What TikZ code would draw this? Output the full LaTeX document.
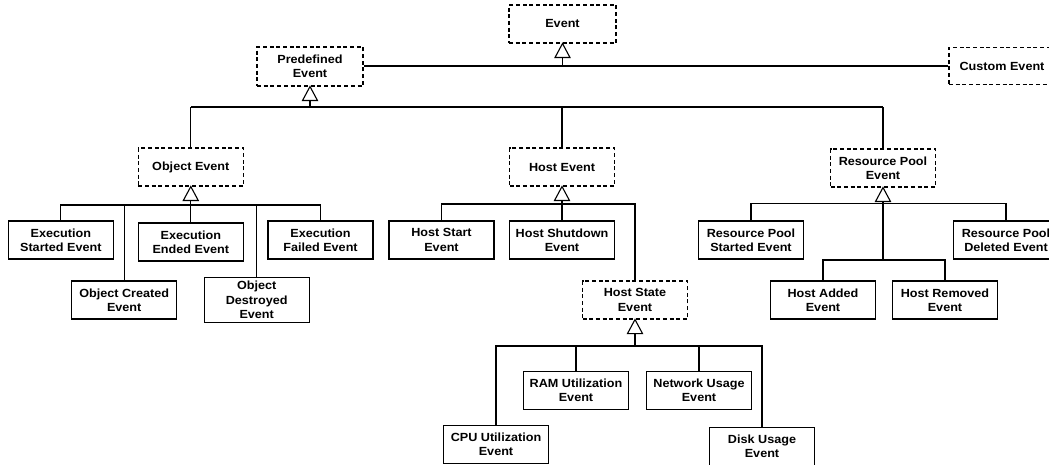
\documentclass[tikz,border=0pt]{standalone}
\usepackage{fontspec}
\setmainfont{Liberation Sans}[FakeStretch=1.07]
\begin{document}
\begin{tikzpicture}[x=1pt,y=-1pt,
  box/.style={draw, line width=1.1pt, fill=white, minimum width=105pt, minimum height=38pt,
    align=center, inner sep=1pt, font=\bfseries\fontsize{11.8}{14.3}\selectfont},
  abox/.style={box, dash pattern=on 4pt off 2.7pt},
  conn/.style={line width=1.1pt},
  bar/.style={line width=2pt},
  tri/.style={line width=1.1pt, fill=white, line join=miter}]
\useasboundingbox (0,0) rectangle (1049,465);
\clip (0,0) rectangle (1049,465);
% abstract classes
\node[abox, minimum width=107pt] (ev) at (562.5,24) {Event};
\node[abox, minimum width=106pt, minimum height=39pt] (pre) at (310,66.5) {Predefined\\Event};
\node[abox, minimum width=106pt, minimum height=37pt] (cu) at (1002,66) {Custom Event};
\node[abox] (oe) at (190.8,167) {Object Event};
\node[abox] (he) at (562,167) {Host Event};
\node[abox] (rp) at (883,168) {Resource Pool\\Event};
\node[abox] (hst) at (635,300) {Host State\\Event};
% object events
\node[box] (es) at (60.8,240) {Execution\\Started Event};
\node[box] (oc) at (124.2,300) {Object Created\\Event};
\node[box] (ee) at (190.8,242) {Execution\\Ended Event};
\node[box, minimum height=45pt] (od) at (256.7,300) {Object\\Destroyed\\Event};
\node[box] (ef) at (320.5,240) {Execution\\Failed Event};
% host events
\node[box] (hs) at (441.5,240) {Host Start\\Event};
\node[box] (hsd) at (562,240) {Host Shutdown\\Event};
\node[box] (ram) at (576,390.5) {RAM Utilization\\Event};
\node[box] (net) at (699,390.5) {Network Usage\\Event};
\node[box] (cpu) at (496,444.5) {CPU Utilization\\Event};
\node[box] (disk) at (762,446.5) {Disk Usage\\Event};
% resource pool events
\node[box] (rps) at (751,240) {Resource Pool\\Started Event};
\node[box] (rpd) at (1006,240) {Resource Pool\\Deleted Event};
\node[box] (ha) at (823,300) {Host Added\\Event};
\node[box] (hr) at (945,300) {Host Removed\\Event};
% triangle bases
\coordinate (ev-b) at ([yshift=-14pt]ev.south);
\coordinate (pre-b) at ([yshift=-14pt]pre.south);
\coordinate (oe-b) at ([yshift=-14pt]oe.south);
\coordinate (he-b) at ([yshift=-14pt]he.south);
\coordinate (rp-b) at ([yshift=-14pt]rp.south);
\coordinate (hst-b) at ([yshift=-14pt]hst.south);
% bar levels
\coordinate (evbar) at (0,66);
\coordinate (prebar) at (0,107.5);
\coordinate (oebar) at (0,205);
\coordinate (hebar) at (0,204);
\coordinate (rpbar) at (0,203.5);
\coordinate (rpbar2) at (0,260);
\coordinate (hsbar) at (0,346);
% Event
\draw[conn] (pre.east |- evbar) -- (cu.west |- evbar);
\draw[conn] (ev-b) -- (ev-b |- evbar);
% Predefined Event
\draw[bar] (oe.north |- prebar) -- (rp.north |- prebar);
\draw[conn] (oe.north) -- (oe.north |- prebar);
\draw[conn] (he.north) -- (he.north |- prebar);
\draw[conn] (rp.north) -- (rp.north |- prebar);
\draw[conn] (pre-b) -- (pre-b |- prebar);
% Object Event
\draw[conn] (es.north) |- (ef.north |- oebar) -- (ef.north);
\draw[conn] (oc.north) -- (oc.north |- oebar);
\draw[conn] (od.north) -- (od.north |- oebar);
\draw[conn] (ee.north) -- (oe-b);
% Host Event
\draw[conn] (hs.north) |- (hst.north |- hebar) -- (hst.north);
\draw[conn] (hsd.north) -- (he-b);
% Resource Pool Event
\draw[conn] (rps.north) |- (rpd.north |- rpbar) -- (rpd.north);
\draw[conn] (rp-b) -- (rp-b |- rpbar2);
\draw[conn] (ha.north) |- (hr.north |- rpbar2) -- (hr.north);
% Host State Event
\draw[conn] (cpu.north) |- (disk.north |- hsbar) -- (disk.north);
\draw[conn] (ram.north) -- (ram.north |- hsbar);
\draw[conn] (net.north) -- (net.north |- hsbar);
\draw[conn] (hst-b) -- (hst-b |- hsbar);
% generalization triangles
\foreach \p in {ev,pre,oe,he,rp,hst}
  \draw[tri] (\p.south) -- ++(-7.5,14) -- ++(15,0) -- cycle;
\end{tikzpicture}
\end{document}
